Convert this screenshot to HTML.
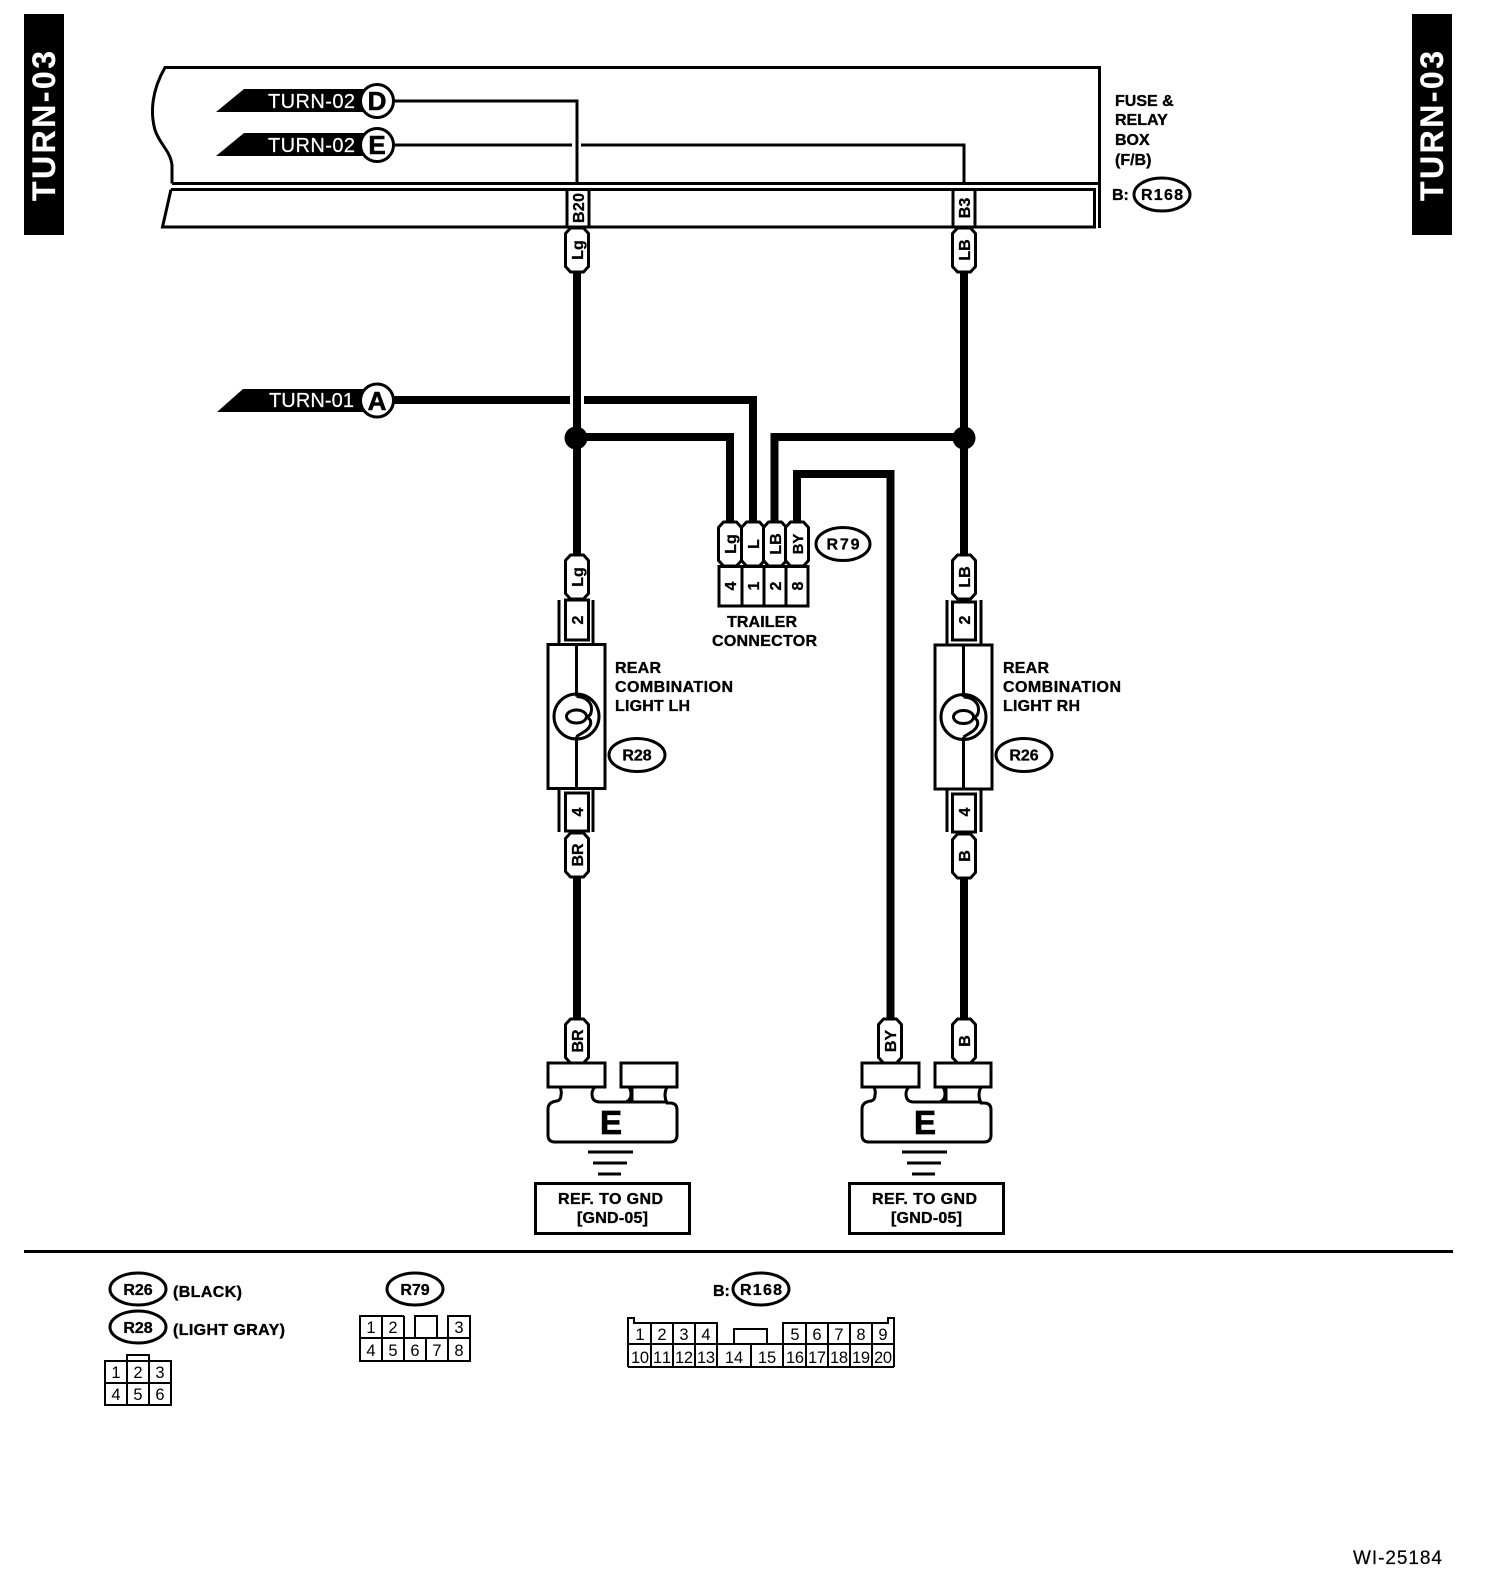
<!DOCTYPE html>
<html><head><meta charset="utf-8"><style>
html,body{margin:0;padding:0;background:#fff}
svg{display:block}
text{font-family:"Liberation Sans",sans-serif;fill:#000}
.b{font-weight:bold;font-size:16px;stroke:#000;stroke-width:.35}
.d{font-size:16.5px;text-anchor:middle}
.m{text-anchor:middle;font-weight:bold;font-size:16px;stroke:#000;stroke-width:.3}
.w{fill:#fff;font-size:20px;stroke:#fff;stroke-width:.2}
.s{fill:none;stroke:#000;stroke-width:3}
.t{fill:none;stroke:#000;stroke-width:8}
.g{fill:none;stroke:#000;stroke-width:2}
.f{fill:#fff;stroke:#000;stroke-width:3}
</style></head><body>
<svg width="1504" height="1582" viewBox="0 0 1504 1582" xmlns="http://www.w3.org/2000/svg">
<defs>
<path id="pill" d="M-6.5,0H6.5L11.5,5.5V38.5L6.5,44H-6.5L-11.5,38.5V5.5Z" fill="#fff" stroke="#000" stroke-width="3" stroke-linejoin="round"/>
<g id="lamp">
<rect x="-28.5" y="0" width="57" height="144" class="f"/>
<path d="M0,0V52M0,92V144" class="s"/>
<circle cx="0" cy="72" r="22.5" class="s"/>
<path d="M0,52C9,52 15,58 15,64C15,70 13,72 10,72M10,72C13,74 15,76 14,80C12,86 6,88 0,92" class="s"/>
<ellipse cx="0" cy="72" rx="10" ry="6.500" class="s"/>
</g>
<g id="gnd">
<rect x="548" y="1063" width="57" height="24" class="f"/>
<rect x="621" y="1063" width="56" height="24" class="f"/>
<path d="M560,1087q2,5 1,8q0,5 -4,6q-9,1 -9,8V1135q0,7 7,7H670q7,0 7,-7V1110q0,-7 -7,-7H667q-4,-8 0,-16M595,1087q-3,3 -3,7q0,8 8,8H667M626,1102q5,-2 5,-8q0,-4 -2,-7M632,1087V1102" class="s"/>
<path d="M588,1152H633M593,1163H627M598,1174H621" class="s"/>
<rect x="535.500" y="1183.500" width="154" height="50" class="f"/>
<text x="611" y="1134" style="font-weight:bold;font-size:33px;stroke:#000;stroke-width:.8" text-anchor="middle">E</text>
<text x="558" y="1204" class="b" textLength="105">REF. TO GND</text>
<text x="577" y="1223" class="b" textLength="71">[GND-05]</text>
</g>
</defs>

<!-- side bars -->
<rect x="24" y="14" width="40" height="221"/>
<rect x="1412" y="14" width="40" height="221"/>
<text transform="translate(55,201) rotate(-90)" class="w" style="font-size:32px;font-weight:bold" textLength="150">TURN-03</text>
<text transform="translate(1443,201) rotate(-90)" class="w" style="font-size:32px;font-weight:bold" textLength="150">TURN-03</text>

<!-- fuse box -->
<path d="M172,183.500V165C170,150 160,145 155,130C150,112 152,90 165,67.500H1099.500V228" class="s"/>
<path d="M172,183.500H1099" class="s"/>
<path d="M171,189.500H1094.500V227H162.500L171,189.500" class="s"/>
<path d="M392,101H577V183" class="s"/>
<path d="M392,145H572M581,145H964V183" class="s"/>
<polygon points="216,112 244,89 366,89 366,112"/>
<polygon points="216,156 244,133 366,133 366,156"/>
<polygon points="217,412 243,389 366,389 366,412"/>
<text x="268" y="108" class="w" textLength="87">TURN-02</text>
<text x="268" y="152" class="w" textLength="87">TURN-02</text>
<text x="269" y="407" class="w" textLength="85">TURN-01</text>
<circle cx="377" cy="101" r="16.500" fill="#fff" stroke="#000" stroke-width="3"/>
<circle cx="377" cy="145" r="16.500" fill="#fff" stroke="#000" stroke-width="3"/>
<circle cx="377" cy="400.500" r="16.500" fill="#fff" stroke="#000" stroke-width="3"/>
<text x="377" y="110" text-anchor="middle" style="font-weight:bold;font-size:26px;stroke:#000;stroke-width:.6">D</text>
<text x="377" y="154" text-anchor="middle" style="font-weight:bold;font-size:26px;stroke:#000;stroke-width:.6">E</text>
<text x="377" y="410" text-anchor="middle" style="font-weight:bold;font-size:26px;stroke:#000;stroke-width:.6">A</text>
<rect x="567" y="189.500" width="22" height="37.500" class="f"/>
<rect x="953" y="189.500" width="22" height="37.500" class="f"/>
<text transform="translate(584,208) rotate(-90)" class="m" textLength="30">B20</text>
<text transform="translate(970,208) rotate(-90)" class="m">B3</text>

<text x="1115" y="106" class="b">FUSE &amp;</text>
<text x="1115" y="125" class="b">RELAY</text>
<text x="1115" y="145" class="b">BOX</text>
<text x="1115" y="165" class="b">(F/B)</text>
<text x="1112" y="200" class="b">B:</text>
<ellipse cx="1162" cy="194.500" rx="28" ry="16.500" class="s"/>
<text x="1162" y="200" class="m" textLength="42">R168</text>

<!-- wires -->
<path d="M577,272V555M964,272V555" class="t"/>
<path d="M392,400H570M584,400H753V524" class="t"/>
<path d="M577,437H730V524M964,437H774.500V524" class="t"/>
<path d="M797,524V474H890.500V1020" class="t"/>
<path d="M577,876V1020M964,878V1020" class="t"/>
<circle cx="576" cy="438" r="11.500"/>
<circle cx="964" cy="438" r="11.500"/>

<!-- top pills -->
<use href="#pill" transform="translate(577,228)"/>
<use href="#pill" transform="translate(964,228)"/>
<text transform="translate(583,250) rotate(-90)" class="m">Lg</text>
<text transform="translate(970,250) rotate(-90)" class="m">LB</text>

<!-- trailer connector -->
<use href="#pill" transform="translate(730,522)"/>
<use href="#pill" transform="translate(753,522)"/>
<use href="#pill" transform="translate(775,522)"/>
<use href="#pill" transform="translate(797,522)"/>
<text transform="translate(736,544) rotate(-90)" class="m">Lg</text>
<text transform="translate(759,544) rotate(-90)" class="m">L</text>
<text transform="translate(781,544) rotate(-90)" class="m">LB</text>
<text transform="translate(803,544) rotate(-90)" class="m" style="font-size:15px">BY</text>
<path d="M719,566.500H808V606H719ZM742,566.500V606M764,566.500V606M786,566.500V606" class="f"/>
<text transform="translate(736,586) rotate(-90)" class="m">4</text>
<text transform="translate(759,586) rotate(-90)" class="m">1</text>
<text transform="translate(781,586) rotate(-90)" class="m">2</text>
<text transform="translate(803,586) rotate(-90)" class="m">8</text>
<ellipse cx="843" cy="544" rx="27" ry="16.500" class="s"/>
<text x="843" y="549.500" class="m" textLength="33">R79</text>
<text x="727" y="627" class="b" textLength="70">TRAILER</text>
<text x="712" y="646" class="b" textLength="105">CONNECTOR</text>

<!-- left lamp -->
<path d="M559,600V645M593,600V645M559,788V832M593,788V832" class="s"/>
<use href="#pill" transform="translate(577,555)"/>
<rect x="565.500" y="600" width="23" height="40" class="f"/>
<use href="#lamp" transform="translate(576.500,644.500)"/>
<rect x="565.500" y="793" width="23" height="38" class="f"/>
<use href="#pill" transform="translate(577,833)"/>
<text transform="translate(583,577) rotate(-90)" class="m">Lg</text>
<text transform="translate(583,620) rotate(-90)" class="m">2</text>
<text transform="translate(583,812) rotate(-90)" class="m">4</text>
<text transform="translate(583,855) rotate(-90)" class="m">BR</text>
<text x="615" y="673" class="b" textLength="46">REAR</text>
<text x="615" y="692" class="b" textLength="118">COMBINATION</text>
<text x="615" y="711" class="b" textLength="75">LIGHT LH</text>
<ellipse cx="637" cy="755" rx="28" ry="16.500" class="s"/>
<text x="637" y="760.500" class="m">R28</text>

<!-- right lamp -->
<path d="M947,600V645M981,600V645M947,788V832M981,788V832" class="s"/>
<use href="#pill" transform="translate(964,555)"/>
<rect x="952.500" y="602" width="23" height="38" class="f"/>
<use href="#lamp" transform="translate(963.500,645)"/>
<rect x="952.500" y="794" width="23" height="38" class="f"/>
<use href="#pill" transform="translate(964,834)"/>
<text transform="translate(970,577) rotate(-90)" class="m">LB</text>
<text transform="translate(970,620) rotate(-90)" class="m">2</text>
<text transform="translate(970,812) rotate(-90)" class="m">4</text>
<text transform="translate(970,856) rotate(-90)" class="m">B</text>
<text x="1003" y="673" class="b" textLength="46">REAR</text>
<text x="1003" y="692" class="b" textLength="118">COMBINATION</text>
<text x="1003" y="711" class="b" textLength="77">LIGHT RH</text>
<ellipse cx="1024" cy="755" rx="28" ry="16.500" class="s"/>
<text x="1024" y="760.500" class="m">R26</text>

<!-- grounds -->
<use href="#gnd"/>
<use href="#gnd" transform="translate(314,0)"/>
<use href="#pill" transform="translate(577,1019)"/>
<use href="#pill" transform="translate(890,1019)"/>
<use href="#pill" transform="translate(964,1019)"/>
<text transform="translate(583,1041) rotate(-90)" class="m">BR</text>
<text transform="translate(896,1041) rotate(-90)" class="m">BY</text>
<text transform="translate(970,1041) rotate(-90)" class="m">B</text>

<!-- separator -->
<rect x="24" y="1250" width="1429" height="3"/>

<!-- legend -->
<ellipse cx="138" cy="1289" rx="28" ry="16" class="s"/>
<text x="138" y="1295" class="m">R26</text>
<text x="173" y="1297" class="b" textLength="69">(BLACK)</text>
<ellipse cx="138" cy="1327" rx="28" ry="16" class="s"/>
<text x="138" y="1333" class="m">R28</text>
<text x="173" y="1335" class="b" textLength="112">(LIGHT GRAY)</text>
<ellipse cx="415" cy="1289" rx="28" ry="16" class="s"/>
<text x="415" y="1295" class="m">R79</text>
<text x="713" y="1296" class="b">B:</text>
<ellipse cx="761" cy="1289" rx="28" ry="16" class="s"/>
<text x="761" y="1295" class="m" textLength="42">R168</text>

<path d="M105,1361H171V1405H105ZM105,1383H171M127,1361V1405M149,1361V1405M127,1361V1355H149V1361" class="g"/>
<text x="116" y="1378" class="d">1</text><text x="138" y="1378" class="d">2</text><text x="160" y="1378" class="d">3</text>
<text x="116" y="1400" class="d">4</text><text x="138" y="1400" class="d">5</text><text x="160" y="1400" class="d">6</text>

<path d="M404,1316H360V1361H470V1316H448V1338M404,1316V1361M382,1316V1361M360,1338H470M415,1338V1316H437V1338M426,1338V1361M448,1338V1361" class="g"/>
<text x="371" y="1333" class="d">1</text><text x="393" y="1333" class="d">2</text><text x="459" y="1333" class="d">3</text>
<text x="371" y="1356" class="d">4</text><text x="393" y="1356" class="d">5</text><text x="415" y="1356" class="d">6</text><text x="437" y="1356" class="d">7</text><text x="459" y="1356" class="d">8</text>

<path d="M628,1367V1318H634V1323H717V1344M651,1323V1367M673,1323V1367M695,1323V1367M628,1344H894M628,1367H894M734,1344V1329H767V1344M751,1344V1367M717,1344V1367M783,1367V1323H888V1318H894V1367M806,1323V1367M828,1323V1367M850,1323V1367M872,1323V1367" class="g"/>
<text x="640" y="1340" class="d">1</text><text x="662" y="1340" class="d">2</text><text x="684" y="1340" class="d">3</text><text x="706" y="1340" class="d">4</text>
<text x="795" y="1340" class="d">5</text><text x="817" y="1340" class="d">6</text><text x="839" y="1340" class="d">7</text><text x="861" y="1340" class="d">8</text><text x="883" y="1340" class="d">9</text>
<text x="640" y="1363" class="d" textLength="18">10</text><text x="662" y="1363" class="d" textLength="18">11</text><text x="684" y="1363" class="d" textLength="18">12</text><text x="706" y="1363" class="d" textLength="18">13</text>
<text x="734" y="1363" class="d">14</text><text x="767" y="1363" class="d">15</text>
<text x="795" y="1363" class="d" textLength="18">16</text><text x="817" y="1363" class="d" textLength="18">17</text><text x="839" y="1363" class="d" textLength="18">18</text><text x="861" y="1363" class="d" textLength="18">19</text><text x="883" y="1363" class="d" textLength="18">20</text>

<text x="1353" y="1564" style="font-size:19px;stroke:#000;stroke-width:.2" textLength="89">WI-25184</text>
</svg>
</body></html>
